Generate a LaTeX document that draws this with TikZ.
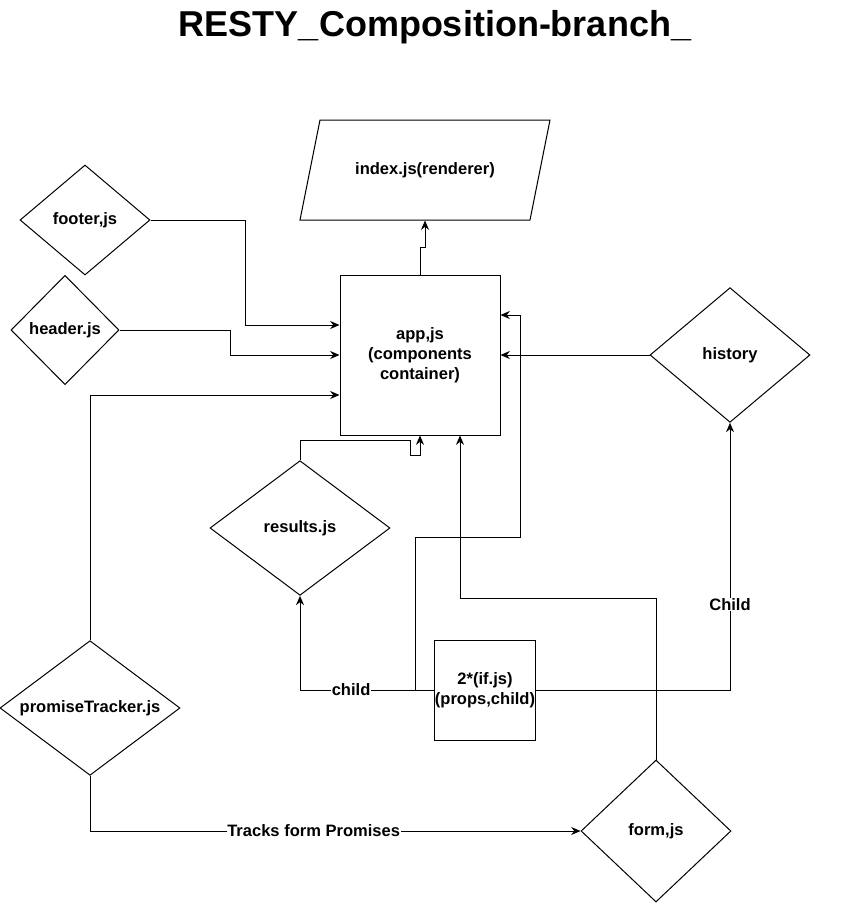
\documentclass[tikz,border=0pt]{standalone}
\usepackage{fontspec}
\setmainfont{Liberation Sans}
\usepackage{tikz}
\usetikzlibrary{
    arrows.meta,
    calc,
    shapes.geometric
}
\tikzstyle{module}=[
    diamond,
    aspect=1.34,
    inner sep=0pt,
    draw=black,
    line width=0.75pt,
    align=center,
    font=\fontsize{12.4pt}{15pt}\selectfont\bfseries
]
\tikzstyle{block}=[
    rectangle,
    inner sep=0pt,
    draw=black,
    line width=0.75pt,
    align=center,
    font=\fontsize{12.4pt}{15pt}\selectfont\bfseries
]
\tikzstyle{arrow}=[line width=0.75pt,-{Stealth[length=7pt,width=6pt]},draw=black]

\begin{document}
\begin{tikzpicture}[
    x=0.75pt,y=-0.75pt,
    renderer/.style={trapezium,trapezium left angle=78.69,trapezium right angle=101.31,
    trapezium stretches body,draw=black,line width=0.75pt,inner xsep=0pt,
    minimum width=187.5pt,text height=9pt,text depth=2.5pt,inner ysep=31.75pt,
    font=\fontsize{12.4pt}{15pt}\selectfont\bfseries},
    tag/.style={fill=white,inner sep=0.5pt,font=\fontsize{12.4pt}{15pt}\selectfont\bfseries}
]
\useasboundingbox (0,0) rectangle (861,904);
\node[font=\fontsize{27pt}{32pt}\selectfont\bfseries] (title) at (435,27) {RESTY\_Composition-branch\_};
% modules
\node[renderer] (index) at (425,170) {index.js(renderer)};
\node[block,minimum width=120pt,minimum height=120pt] (app) at (420,355) {app,js\\(components\\container)};
\node[module,minimum width=97.5pt,minimum height=82.5pt] (footer) at (85,220) {footer,js};
\node[module,minimum width=81pt,minimum height=82pt] (header) at (65,330) {header.js};
\node[module,minimum width=120pt,minimum height=101pt] (history) at (730,355) {history};
\node[module,minimum width=135pt,minimum height=101pt] (results) at (300,528) {results.js};
\node[module,minimum width=135pt,minimum height=101pt] (promise) at (90,708) {promiseTracker.js};
\node[block,minimum width=75pt,minimum height=75pt] (ifjs) at (485,690) {2*(if.js)\\(props,child)};
\node[module,minimum width=112.5pt,minimum height=106.5pt] (form) at (656,831) {form,js};
% connectors
\draw[arrow] (app.north) -- ++(0,-27) -| (index.south);
\draw[arrow] (footer.east) -| (245,325) -- (app.west |- 245,325);
\draw[arrow] (header.east) -| (230,355) -- (app.west);
\draw[arrow] (promise.north) |- (app.west |- 0,395);
\draw[arrow] (history.west) -- (app.east);
\draw[arrow] (results.north) -- ++(0,-20) -| (410,455) -| (app.south);
\draw[arrow] (ifjs.west) -- (415,690) -- (415,537) -| (520,315) -- (app.east |- 0,315);
\draw[arrow] (ifjs.west) -| node[tag,pos=0.31]{child} (results.south);
\draw[arrow] (form.north) |- (460,598) -- (app.south -| 460,0);
\draw[arrow] (ifjs.east) -| node[tag,pos=0.66]{Child} (history.south);
\draw[arrow] (promise.south) |- node[tag,pos=0.728]{Tracks form Promises} (form.west);
\end{tikzpicture}
\end{document}
